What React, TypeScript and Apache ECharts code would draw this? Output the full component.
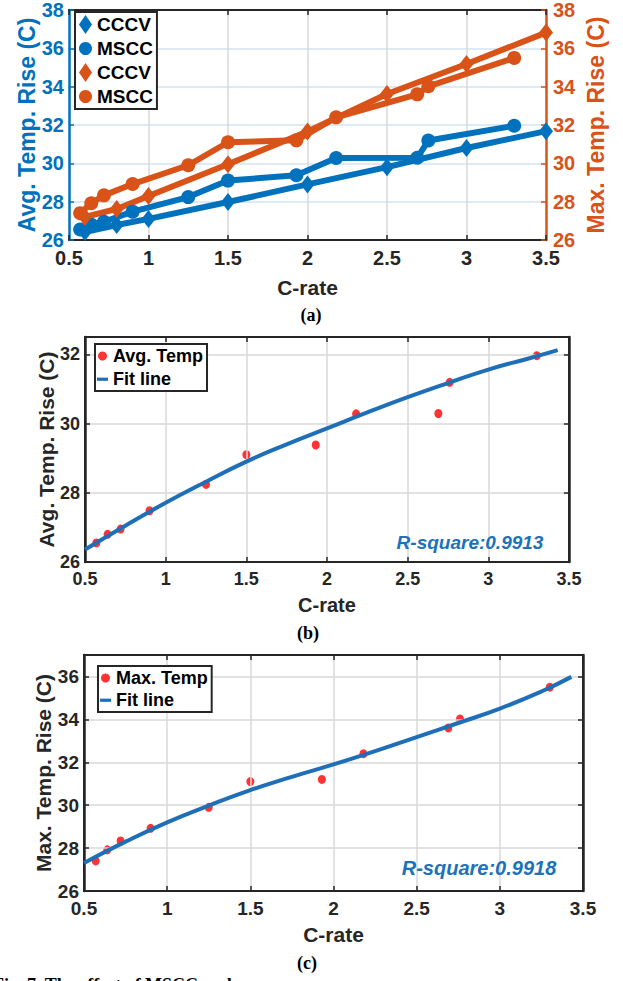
import React, { useEffect, useRef } from 'react';
import * as echarts from 'echarts';

const BLUE = '#0072BD';
const ORANGE = '#D95319';
const RED = '#FF0000';
const FIT_BLUE = '#1f6fb8';
const DARK = '#262626';
const FONT = '"Liberation Sans", Arial, sans-serif';
const SERIF = '"Liberation Serif", "Times New Roman", serif';

// ---- data ----
const cRateCCCV = [0.6, 0.8, 1, 1.5, 2, 2.5, 3, 3.5];
const avgTempCCCV = [26.42, 26.78, 27.1, 27.98, 28.9, 29.8, 30.8, 31.68];
const maxTempCCCV = [27.2, 27.62, 28.3, 29.95, 31.66, 33.62, 35.18, 36.82];

const cRateMSCC = [0.57, 0.64, 0.72, 0.9, 1.25, 1.5, 1.93, 2.18, 2.69, 2.76, 3.3];
const avgTempMSCC = [26.55, 26.8, 26.95, 27.48, 28.24, 29.1, 29.38, 30.28, 30.29, 31.19, 31.96];
const maxTempMSCC = [27.4, 27.92, 28.33, 28.92, 29.9, 31.1, 31.2, 32.4, 33.6, 34.02, 35.5];

const fitCRate = [0.5, 0.75, 1, 1.25, 1.5, 1.75, 2, 2.25, 2.5, 2.75, 3, 3.25, 3.43];
const avgFit = [26.36, 27.05, 27.71, 28.32, 28.9, 29.4, 29.86, 30.32, 30.76, 31.17, 31.56, 31.88, 32.12];
const maxFit = [27.31, 28.3, 29.2, 29.98, 30.7, 31.32, 31.9, 32.52, 33.17, 33.83, 34.5, 35.3, 35.98];

const rSquareAvg = 'R-square:0.9913';
const rSquareMax = 'R-square:0.9918';

const labelMap: Record<string, string> = {
  avgCCCV: 'CCCV',
  avgMSCC: 'MSCC',
  maxCCCV: 'CCCV',
  maxMSCC: 'MSCC',
  avgPts: 'Avg. Temp',
  fitAvg: 'Fit line',
  maxPts: 'Max. Temp',
  fitMax: 'Fit line',
};

const pairs = (xs: number[], ys: number[]) => xs.map((x, i) => [x, ys[i]]);

const LINE_ICON = 'path://M0,0 L0,0 M0,3 L12,3 L12,6.5 L0,6.5 Z M0,9 L0,9';

function xBottom(gridIndex: number, fontSize: number, nameSize: number, nameGap: number) {
  return {
    type: 'value',
    gridIndex,
    position: 'bottom',
    min: 0.5,
    max: 3.5,
    interval: 0.5,
    z: 3,
    axisLine: { show: true, onZero: false, lineStyle: { color: DARK, width: 2 } },
    axisTick: { show: true, inside: true, length: 5, lineStyle: { color: DARK, width: 1.5 } },
    axisLabel: { color: DARK, fontSize, fontWeight: 'bold', fontFamily: FONT, margin: 8 },
    splitLine: { show: true, showMinLine: false, showMaxLine: false, lineStyle: { color: '#d9d9d9', width: 1.5 } },
    name: 'C-rate',
    nameLocation: 'middle',
    nameGap,
    nameMoveOverlap: false,
    nameTextStyle: { color: DARK, fontSize: nameSize, fontWeight: 'bold', fontFamily: FONT },
  };
}

function xTop(gridIndex: number) {
  return {
    type: 'value',
    gridIndex,
    position: 'top',
    min: 0.5,
    max: 3.5,
    interval: 0.5,
    z: 3,
    axisLine: { show: true, onZero: false, lineStyle: { color: DARK, width: 2 } },
    axisTick: { show: true, inside: true, length: 5, lineStyle: { color: DARK, width: 1.5 } },
    axisLabel: { show: false },
    splitLine: { show: false },
  };
}

function yAxis(
  gridIndex: number,
  position: 'left' | 'right',
  min: number,
  max: number,
  color: string,
  opts: { labels: boolean; fontSize?: number; name?: string; nameSize?: number; nameGap?: number; split?: string | null }
) {
  return {
    type: 'value',
    gridIndex,
    position,
    min,
    max,
    interval: 2,
    z: 3,
    axisLine: { show: true, onZero: false, lineStyle: { color, width: 2.5 } },
    axisTick: { show: true, inside: true, length: 5, lineStyle: { color, width: 1.5 } },
    axisLabel: {
      show: opts.labels,
      color,
      fontSize: opts.fontSize,
      fontWeight: 'bold',
      fontFamily: FONT,
      margin: position === 'left' ? 5 : 7,
      formatter: (v: number) => (Math.abs(v % 2) < 1e-9 ? String(v) : ''),
    },
    splitLine: opts.split
      ? { show: true, showMinLine: false, showMaxLine: false, lineStyle: { color: opts.split, width: 1.5 } }
      : { show: false },
    name: opts.name,
    nameLocation: 'middle',
    nameGap: opts.nameGap,
    nameMoveOverlap: false,
    nameTextStyle: { color, fontSize: opts.nameSize, fontWeight: 'bold', fontFamily: FONT },
  };
}

const legendText = { fontSize: 19, fontWeight: 'bold', color: '#000', fontFamily: FONT };

const gridBox = { show: true, borderColor: DARK, borderWidth: 2, backgroundColor: 'transparent' };

const option: any = {
  animation: false,
  backgroundColor: '#fff',
  grid: [
    { left: 69, top: 7, width: 477, height: 233 },
    { left: 85, top: 337, width: 484, height: 225, ...gridBox },
    { left: 84, top: 655, width: 499, height: 236, ...gridBox },
  ],
  xAxis: [
    xBottom(0, 20, 21, 37),
    xTop(0),
    xBottom(1, 18, 20, 33),
    xTop(1),
    xBottom(2, 19, 21, 33),
    xTop(2),
  ],
  yAxis: [
    yAxis(0, 'left', 26, 38, BLUE, { labels: true, fontSize: 20, name: 'Avg. Temp. Rise (C)', nameSize: 23, nameGap: 31, split: '#d3e5f3' }),
    yAxis(0, 'right', 26, 38, ORANGE, { labels: true, fontSize: 20, name: 'Max. Temp. Rise (C)', nameSize: 23, nameGap: 38, split: null }),
    yAxis(1, 'left', 26, 32.5, DARK, { labels: true, fontSize: 18, name: 'Avg. Temp. Rise (C)', nameSize: 21, nameGap: 28, split: '#d9d9d9' }),
    yAxis(1, 'right', 26, 32.5, DARK, { labels: false, split: null }),
    yAxis(2, 'left', 26, 37, DARK, { labels: true, fontSize: 19, name: 'Max. Temp. Rise (C)', nameSize: 21, nameGap: 30, split: '#d9d9d9' }),
    yAxis(2, 'right', 26, 37, DARK, { labels: false, split: null }),
  ],
  legend: [
    {
      data: [
        { name: 'avgCCCV', icon: 'diamond' },
        { name: 'avgMSCC', icon: 'circle' },
        { name: 'maxCCCV', icon: 'diamond' },
        { name: 'maxMSCC', icon: 'circle' },
      ],
      orient: 'vertical',
      left: 75,
      top: 12,
      itemWidth: 13,
      itemHeight: 19,
      itemGap: 5,
      padding: [3, 4, 3, 4],
      borderColor: DARK,
      borderWidth: 2,
      backgroundColor: '#fff',
      selectedMode: false,
      formatter: (n: string) => labelMap[n],
      textStyle: legendText,
    },
    {
      data: [
        { name: 'avgPts', icon: 'circle' },
        { name: 'fitAvg', icon: LINE_ICON },
      ],
      orient: 'vertical',
      left: 95,
      top: 344,
      itemWidth: 11,
      itemHeight: 9,
      itemGap: 5,
      padding: [3, 4, 3, 2],
      borderColor: DARK,
      borderWidth: 2,
      backgroundColor: '#fff',
      selectedMode: false,
      formatter: (n: string) => labelMap[n],
      textStyle: { ...legendText, fontSize: 18 },
    },
    {
      data: [
        { name: 'maxPts', icon: 'circle' },
        { name: 'fitMax', icon: LINE_ICON },
      ],
      orient: 'vertical',
      left: 98,
      top: 666,
      itemWidth: 11,
      itemHeight: 9,
      itemGap: 4,
      padding: [3, 4, 3, 2],
      borderColor: DARK,
      borderWidth: 2,
      backgroundColor: '#fff',
      selectedMode: false,
      formatter: (n: string) => labelMap[n],
      textStyle: { ...legendText, fontSize: 18 },
    },
  ],
  series: [
    {
      name: 'avgCCCV', type: 'line', xAxisIndex: 0, yAxisIndex: 0,
      data: pairs(cRateCCCV, avgTempCCCV),
      symbol: 'diamond', symbolSize: [14, 18],
      lineStyle: { color: BLUE, width: 6 }, itemStyle: { color: BLUE, borderWidth: 0 },
    },
    {
      name: 'avgMSCC', type: 'line', xAxisIndex: 0, yAxisIndex: 0,
      data: pairs(cRateMSCC, avgTempMSCC),
      symbol: 'circle', symbolSize: 14,
      lineStyle: { color: BLUE, width: 6 }, itemStyle: { color: BLUE, borderWidth: 0 },
    },
    {
      name: 'maxCCCV', type: 'line', xAxisIndex: 0, yAxisIndex: 1,
      data: pairs(cRateCCCV, maxTempCCCV),
      symbol: 'diamond', symbolSize: [14, 18],
      lineStyle: { color: ORANGE, width: 6 }, itemStyle: { color: ORANGE, borderWidth: 0 },
    },
    {
      name: 'maxMSCC', type: 'line', xAxisIndex: 0, yAxisIndex: 1,
      data: pairs(cRateMSCC, maxTempMSCC),
      symbol: 'circle', symbolSize: 14,
      lineStyle: { color: ORANGE, width: 6 }, itemStyle: { color: ORANGE, borderWidth: 0 },
    },
    {
      name: 'avgPts', type: 'scatter', xAxisIndex: 2, yAxisIndex: 2,
      data: pairs(cRateMSCC, avgTempMSCC),
      symbol: 'circle', symbolSize: [8, 9],
      itemStyle: { color: RED },
    },
    {
      name: 'fitAvg', type: 'line', xAxisIndex: 2, yAxisIndex: 2,
      data: pairs(fitCRate, avgFit),
      smooth: true, showSymbol: false, symbol: 'none',
      lineStyle: { color: FIT_BLUE, width: 4 }, itemStyle: { color: FIT_BLUE, borderWidth: 0 },
    },
    {
      name: 'maxPts', type: 'scatter', xAxisIndex: 4, yAxisIndex: 4,
      data: pairs(cRateMSCC, maxTempMSCC),
      symbol: 'circle', symbolSize: [8, 9],
      itemStyle: { color: RED },
    },
    {
      name: 'fitMax', type: 'line', xAxisIndex: 4, yAxisIndex: 4,
      data: pairs(fitCRate, maxFit),
      smooth: true, showSymbol: false, symbol: 'none',
      lineStyle: { color: FIT_BLUE, width: 4 }, itemStyle: { color: FIT_BLUE, borderWidth: 0 },
    },
  ],
  graphic: [
    {
      type: 'text', x: 311, y: 315, z: 10,
      style: { text: '(a)', fontSize: 18, fontWeight: 'bold', fontFamily: SERIF, fill: '#000', align: 'center', verticalAlign: 'middle' },
    },
    {
      type: 'text', x: 308, y: 633, z: 10,
      style: { text: '(b)', fontSize: 18, fontWeight: 'bold', fontFamily: SERIF, fill: '#000', align: 'center', verticalAlign: 'middle' },
    },
    {
      type: 'text', x: 307, y: 963, z: 10,
      style: { text: '(c)', fontSize: 18, fontWeight: 'bold', fontFamily: SERIF, fill: '#000', align: 'center', verticalAlign: 'middle' },
    },
    {
      type: 'text', x: 470, y: 542, z: 10,
      style: { text: rSquareAvg, fontSize: 19, fontWeight: 'bold', fontStyle: 'italic', fontFamily: FONT, fill: '#1a72bb', align: 'center', verticalAlign: 'middle' },
    },
    {
      type: 'text', x: 479, y: 868, z: 10,
      style: { text: rSquareMax, fontSize: 20, fontWeight: 'bold', fontStyle: 'italic', fontFamily: FONT, fill: '#1a72bb', align: 'center', verticalAlign: 'middle' },
    },
    {
      type: 'text', x: -7, y: 976, z: 10,
      style: { text: 'Fig. 7. The effect of MSCC and', fontSize: 18, fontWeight: 'bold', fontFamily: SERIF, fill: '#000', align: 'left', verticalAlign: 'top' },
    },
  ],
};

export default function App() {
  const ref = useRef<HTMLDivElement>(null);
  useEffect(() => {
    if (!ref.current) return;
    const chart = echarts.init(ref.current, null, { renderer: 'svg' });
    chart.setOption(option);
    return () => chart.dispose();
  }, []);
  return (
    <div
      ref={ref}
      style={{ position: 'absolute', left: 0, top: 0, width: 623, height: 981, background: '#fff' }}
    />
  );
}
